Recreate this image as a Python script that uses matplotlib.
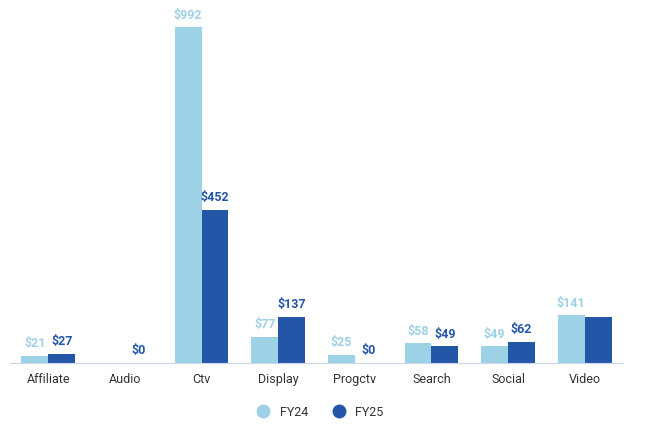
import numpy as np
import matplotlib.pyplot as plt
from matplotlib.lines import Line2D

plt.rcParams['font.family'] = ['Roboto', 'DejaVu Sans']

categories = ['Affiliate', 'Audio', 'Ctv', 'Display', 'Progctv', 'Search', 'Social', 'Video']
fy24 = [21, np.nan, 992, 77, 25, 58, 49, 141]
fy25 = [27, 0, 452, 137, 0, 49, 62, 136]
# labels that the chart hides (overlap)
fy25_hidden = ['Video']

c24 = '#9dd1e6'
c25 = '#2456a8'

fig = plt.figure(figsize=(6.5, 4.42), dpi=100)
ax = fig.add_axes([10 / 650, 79 / 442, 613 / 650, 363 / 442])

x = np.arange(len(categories))
w = 0.35
b1 = ax.bar(x - w / 2, np.nan_to_num(fy24), w, color=c24)
b2 = ax.bar(x + w / 2, fy25, w, color=c25)

for i, v in enumerate(fy24):
    if not np.isnan(v):
        ax.annotate(f'${v:.0f}', (x[i] - w / 2, v), xytext=(0, 4), textcoords='offset points',
                    ha='center', va='bottom', fontsize=9, fontweight='bold', color=c24)
for i, v in enumerate(fy25):
    if categories[i] in fy25_hidden:
        continue
    ax.annotate(f'${v:.0f}', (x[i] + w / 2, v), xytext=(0, 4), textcoords='offset points',
                ha='center', va='bottom', fontsize=9, fontweight='bold', color=c25)

ax.set_xlim(-0.5, len(categories) - 0.5)
ax.set_ylim(0, 1072)
ax.set_xticks(x)
ax.set_xticklabels(categories, fontsize=9, color='#333333')
ax.tick_params(axis='x', length=0, pad=7.5)
ax.set_yticks([])
for s in ['top', 'right', 'left']:
    ax.spines[s].set_visible(False)
ax.spines['bottom'].set_color('#ccd6eb')

handles = [Line2D([], [], marker='o', ls='', markersize=9, color=c24, label='FY24'),
           Line2D([], [], marker='o', ls='', markersize=9, color=c25, label='FY25')]
fig.legend(handles=handles, loc='center', bbox_to_anchor=(0.488, 1 - 412 / 442), ncol=2,
           frameon=False, fontsize=9, handletextpad=0.3, columnspacing=1.5,
           labelcolor='#333333')

fig.savefig('out.png', dpi=100)
